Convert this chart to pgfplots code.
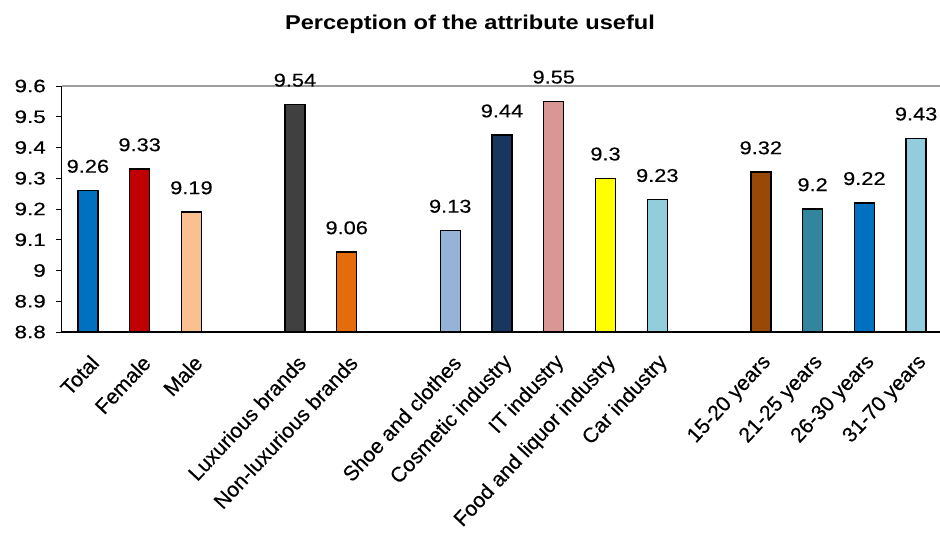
\documentclass[border=0pt]{standalone}
\usepackage{fontspec}
\usepackage{pgfplots}
\pgfplotsset{compat=1.18}
\setmainfont[FakeBold=0.3]{Liberation Sans}
\newfontfamily\widesans[FakeStretch=1.18, FakeBold=0.3]{Liberation Sans}
\newfontfamily\tickfont[FakeStretch=1.25, FakeBold=0.3]{Liberation Sans}
\newfontfamily\titlefont[FakeStretch=1.18]{Liberation Sans Bold}

\definecolor{cTotal}{HTML}{0070C0}
\definecolor{cFemale}{HTML}{C00000}
\definecolor{cMale}{HTML}{FAC090}
\definecolor{cLux}{HTML}{404040}
\definecolor{cNonLux}{HTML}{E46C0A}
\definecolor{cShoe}{HTML}{95B3D7}
\definecolor{cCosm}{HTML}{17375E}
\definecolor{cIT}{HTML}{D99694}
\definecolor{cFood}{HTML}{FFFF00}
\definecolor{cCar}{HTML}{92CDDC}
\definecolor{cAgeA}{HTML}{984807}
\definecolor{cAgeB}{HTML}{31859C}
\definecolor{cAgeC}{HTML}{0070C0}
\definecolor{cAgeD}{HTML}{93CDDD}

\begin{document}
\begin{tikzpicture}
\begin{axis}[
  name=ax,
  scale only axis,
  width=880pt, height=246pt,
  xmin=-0.5, xmax=16.5,
  ymin=8.8, ymax=9.6,
  ybar, bar width=20pt,
  clip=false,
  axis x line=bottom, axis y line=left,
  axis line style={black, line width=1pt, -},
  x axis line style={line width=1.3pt},
  /pgf/number format/assume math mode=true,
  ytick={8.8,8.9,9,9.1,9.2,9.3,9.4,9.5,9.6},
  yticklabel style={font=\tickfont\fontsize{18}{20}\selectfont, inner sep=0pt, anchor=east, xshift=-10pt},
  ytick style={black, line width=0.8pt},
  tick align=outside,
  major tick length=6pt,
  extra y ticks={9.6},
  extra y tick labels={},
  extra y tick style={grid=major, major grid style={color=black!38, line width=1.6pt}, major tick length=0pt},
  xtick={0,1,2,4,5,7,8,9,10,11,13,14,15,16},
  xticklabels={Total,Female,Male,Luxurious brands,Non-luxurious brands,Shoe and clothes,Cosmetic industry,IT industry,Food and liquor industry,Car industry,15-20 years,21-25 years,26-30 years,31-70 years},
  xtick style={draw=none},
  minor xtick={-0.5,0.5,...,16.5},
  minor x tick style={black, line width=0.8pt},
  minor tick length=6pt,
  xticklabel style={font=\fontsize{21}{24}\selectfont, anchor=east, inner sep=0pt, xshift=7pt, yshift=-21pt, rotate=47},
  nodes near coords,
  every node near coord/.style={font=\widesans\fontsize{18.5}{21}\selectfont, anchor=south, inner sep=0pt, yshift=17pt, black},
  title={Perception of the attribute useful},
  title style={font=\titlefont\fontsize{20}{24}\selectfont, at={(axis description cs:0.4636,1)}, anchor=base, yshift=50pt, inner sep=0pt},
  every axis plot/.append style={bar shift=0pt, draw=black, line width=1.4pt},
]
% gender
\addplot[fill=cTotal]  coordinates {(0,9.26)};
\addplot[fill=cFemale] coordinates {(1,9.33)};
\addplot[fill=cMale]   coordinates {(2,9.19)};
% brand type
\addplot[fill=cLux]    coordinates {(4,9.54)};
\addplot[fill=cNonLux] coordinates {(5,9.06)};
% industry
\addplot[fill=cShoe]   coordinates {(7,9.13)};
\addplot[fill=cCosm]   coordinates {(8,9.44)};
\addplot[fill=cIT]     coordinates {(9,9.55)};
\addplot[fill=cFood]   coordinates {(10,9.3)};
\addplot[fill=cCar]    coordinates {(11,9.23)};
% age groups
\addplot[fill=cAgeA]   coordinates {(13,9.32)};
\addplot[fill=cAgeB]   coordinates {(14,9.2)};
\addplot[fill=cAgeC]   coordinates {(15,9.22)};
\addplot[fill=cAgeD]   coordinates {(16,9.43)};
\end{axis}
\pgfresetboundingbox
\path (ax.south west) ++(-62pt,-205pt) rectangle ++(940pt,537pt);
\end{tikzpicture}
\end{document}
